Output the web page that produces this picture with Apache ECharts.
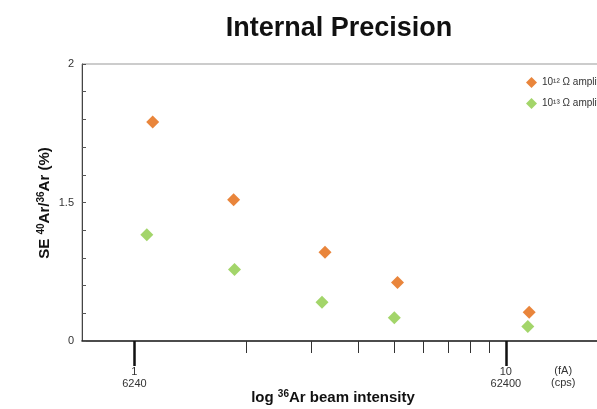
<!DOCTYPE html>
<html>
<head>
<meta charset="utf-8">
<script src="https://cdn.jsdelivr.net/npm/echarts@6/dist/echarts.min.js"></script>
<style>
  html, body { margin: 0; padding: 0; background: #fff; }
  #main { width: 597px; height: 409px; }
</style>
</head>
<body>
<div id="main"></div>
<script>
// beam intensity in fA (log axis), SE plotted on the chart's own 1..2 scale
var seriesNames = ['10¹² Ω amplifier', '10¹³ Ω amplifier'];
var x12 = [1.12, 1.85, 3.26, 5.11, 11.56];
var y12 = [1.791, 1.510, 1.320, 1.211, 1.104];
var x13 = [1.08, 1.86, 3.20, 5.01, 11.46];
var y13 = [1.384, 1.258, 1.140, 1.084, 1.052];
var minorTicks = [2, 3, 4, 5, 6, 7, 8, 9];
var majorTicks = [1, 10];
var majorLabels = { 1: ['1', '6240'], 10: ['10', '62400'] };
var yTickLabels = { 10: '0', 15: '1.5', 20: '2' };

var dom = document.getElementById('main');
var myChart = echarts.init(dom, null, { renderer: 'canvas' });

var FONT = 'Liberation Sans, Arial, sans-serif';
var xMin = 0.7226, xMax = 17.93;

function pairs(xs, ys) {
  return xs.map(function (x, i) { return [x, ys[i]]; });
}

// bold axis title with superscripts
var nameRich = {
  t: { fontFamily: FONT, fontSize: 15, fontWeight: 'bold', fill: '#111', lineHeight: 17 },
  s: { fontFamily: FONT, fontSize: 10, fontWeight: 'bold', fill: '#111', verticalAlign: 'top', lineHeight: 17 }
};

var option = {
  animation: false,
  backgroundColor: '#fff',
  title: {
    text: 'Internal Precision',
    left: 334,
    top: 10,
    textAlign: 'center',
    textStyle: { fontFamily: FONT, fontSize: 27, fontWeight: 'bold', color: '#111' }
  },
  legend: {
    orient: 'vertical',
    left: 521,
    top: 72,
    itemWidth: 11,
    itemHeight: 11,
    itemGap: 10,
    icon: 'diamond',
    data: seriesNames,
    textStyle: { fontFamily: FONT, fontSize: 10, color: '#333' }
  },
  grid: {
    left: 82,
    top: 64,
    right: -3,
    bottom: 68,
    outerBoundsMode: 'none',
    show: true,
    borderColor: '#999',
    borderWidth: 1
  },
  xAxis: [{
    type: 'log',
    min: xMin,
    max: xMax,
    position: 'bottom',
    offset: 0,
    axisLine: { lineStyle: { color: '#222', width: 1.5 } },
    axisTick: { customValues: minorTicks, length: 12, lineStyle: { color: '#333', width: 1 } },
    axisLabel: { show: false },
    splitLine: { show: false },
    minorTick: { show: false }
  }, {
    type: 'log',
    min: xMin,
    max: xMax,
    position: 'bottom',
    offset: 0,
    axisLine: { show: false },
    axisTick: { customValues: majorTicks, length: 25, lineStyle: { color: '#111', width: 2.5 } },
    axisLabel: {
      customValues: majorTicks,
      margin: 25,
      formatter: function (v) {
        var l = majorLabels[Math.round(v)];
        return l ? l[0] + '\n' + l[1] : '';
      },
      fontFamily: FONT,
      fontSize: 11,
      lineHeight: 12,
      color: '#333'
    },
    splitLine: { show: false }
  }],
  yAxis: {
    type: 'value',
    min: 1,
    max: 2,
    interval: 0.1,
    axisLine: { show: true, lineStyle: { color: '#444', width: 1 } },
    axisTick: { show: true, inside: true, length: 4, lineStyle: { color: '#555' } },
    axisLabel: {
      margin: 8,
      fontFamily: FONT,
      fontSize: 11,
      color: '#333',
      formatter: function (v) {
        var l = yTickLabels[Math.round(v * 10)];
        return l === undefined ? '' : l;
      }
    },
    splitLine: { show: false }
  },
  graphic: [{
    type: 'text',
    left: 551,
    top: 365,
    style: {
      text: '(fA)\n(cps)',
      textAlign: 'center',
      font: '11px ' + FONT,
      fill: '#333',
      lineHeight: 12,
      x: 12
    }
  }, {
    type: 'text',
    x: 333,
    y: 398,
    style: {
      text: '{t|log }{s|36}{t|Ar beam intensity}',
      rich: nameRich,
      align: 'center',
      verticalAlign: 'middle'
    }
  }, {
    type: 'text',
    x: 45,
    y: 203,
    rotation: Math.PI / 2,
    style: {
      text: '{t|SE }{s|40}{t|Ar/}{s|36}{t|Ar (%)}',
      rich: nameRich,
      align: 'center',
      verticalAlign: 'middle'
    }
  }],
  series: [{
    name: seriesNames[0],
    type: 'scatter',
    symbol: 'diamond',
    symbolSize: 13,
    itemStyle: { color: '#E3660A' },
    data: pairs(x12, y12)
  }, {
    name: seriesNames[1],
    type: 'scatter',
    symbol: 'diamond',
    symbolSize: 13,
    itemStyle: { color: '#8CCB45' },
    data: pairs(x13, y13)
  }]
};

myChart.setOption(option);
window.addEventListener('resize', myChart.resize);
</script>
</body>
</html>
